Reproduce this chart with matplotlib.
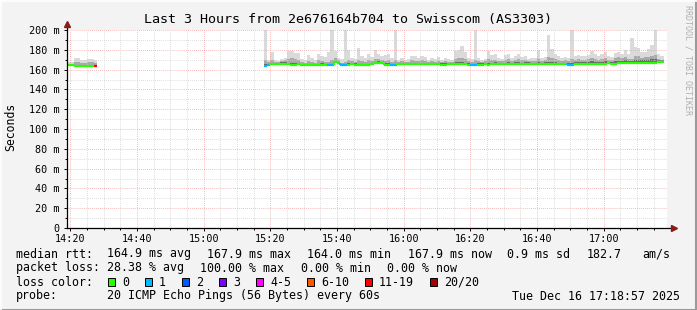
import matplotlib
matplotlib.use("Agg")
import matplotlib.pyplot as plt
import numpy as np
from matplotlib.collections import LineCollection
from matplotlib.lines import Line2D

MONO = "DejaVu Sans Mono"

# minutes since 14:19, two blocks of data with a gap in between
minutes = list(range(0, 9)) + list(range(59, 179))

rtt_median = [
    164.6, 164.4, 163.4, 163.4, 163.4, 163.4, 163.4, 163.5, 163.6,
    164.0, 164.2, 165.5, 165.3, 165.4, 166.0, 165.8, 165.2, 165.0, 165.1,
    165.3, 164.6, 164.4, 164.4, 164.5, 164.4, 164.6, 164.8, 164.6, 164.2,
    164.4, 167.8, 166.8, 164.4, 164.2, 165.0, 165.4, 165.0, 164.6, 164.5,
    164.5, 164.6, 165.4, 166.6, 167.0, 166.3, 165.0, 164.8, 164.2, 164.3,
    165.2, 165.4, 165.4, 165.3, 165.2, 165.3, 165.4, 165.4, 165.4, 165.4,
    165.5, 165.3, 165.2, 165.0, 165.1, 165.2, 165.3, 165.3, 165.4, 165.5,
    165.3, 165.0, 164.4, 164.2, 164.8, 164.9, 165.4, 164.6, 165.2, 165.6,
    165.5, 165.4, 165.5, 165.7, 165.4, 165.6, 165.8, 165.4, 165.6, 165.8,
    165.7, 165.6, 165.5, 165.6, 165.7, 165.8, 165.6, 165.5, 165.5, 165.6,
    165.5, 164.8, 164.9, 165.6, 165.7, 165.6, 165.8, 165.8, 165.7, 165.9,
    166.0, 166.1, 166.0, 166.2, 166.0, 166.1, 166.2, 166.3, 166.4, 166.2,
    166.4, 166.3, 166.5, 166.6, 166.5, 166.4, 166.6, 166.7, 167.9, 167.9,
]

# packets lost out of 20
loss = [
    0, 0, 0, 0, 0, 0, 0, 0, 12,
    1, 1, 0, 0, 0, 0, 0, 0, 0, 0,
    0, 0, 0, 0, 0, 0, 0, 0, 0, 1,
    1, 0, 0, 1, 1, 0, 0, 0, 0, 0,
    0, 0, 0, 0, 0, 0, 0, 0, 1, 1,
    0, 0, 0, 0, 0, 0, 0, 0, 0, 0,
    0, 0, 0, 0, 0, 0, 0, 0, 0, 0,
    0, 0, 1, 1, 0, 0, 0, 0, 0, 0,
    0, 0, 0, 0, 0, 0, 0, 0, 0, 0,
    0, 0, 0, 0, 0, 0, 0, 0, 0, 0,
    0, 1, 1, 0, 0, 0, 0, 0, 0, 0,
    0, 0, 0, 0, 0, 0, 0, 0, 0, 0,
    0, 0, 0, 0, 0, 0, 0, 0, 0, 0,
]

# smoke: slowest ping, upper quartile-ish, and the dense part near the median
rtt_max = [
    168, 168, 172, 172, 170, 170, 171, 171, 170,
    205, 170, 178, 170, 169, 171, 172, 179, 179, 177,
    177, 171, 170, 175, 172, 170, 176, 174, 173, 178,
    205, 179, 172, 171, 205, 180, 172, 171, 182, 174,
    172, 176, 173, 180, 176, 174, 175, 176, 172, 205,
    170, 172, 170, 171, 174, 174, 172, 174, 173, 170,
    172, 171, 173, 170, 172, 171, 170, 179, 180, 184,
    178, 172, 171, 205, 172, 170, 171, 179, 175, 176,
    172, 171, 175, 176, 172, 174, 176, 173, 174, 171,
    172, 172, 180, 172, 173, 195, 181, 176, 174, 172,
    173, 172, 205, 174, 175, 174, 174, 175, 179, 176,
    174, 176, 178, 174, 173, 177, 178, 176, 180, 176,
    192, 183, 182, 178, 178, 181, 185, 205, 176, 174,
]
rtt_mid = [
    166, 166, 168, 168, 167, 167, 168, 168, 167,
    170, 168, 170, 168, 168, 169, 170, 171, 172, 171,
    170, 168, 167, 169, 168, 167, 170, 169, 168, 168,
    170, 172, 170, 167, 168, 170, 169, 168, 170, 169,
    168, 170, 169, 171, 171, 170, 169, 170, 168, 170,
    168, 169, 168, 168, 170, 169, 169, 170, 169, 168,
    169, 168, 169, 168, 169, 168, 168, 171, 172, 172,
    171, 169, 168, 170, 169, 168, 169, 171, 170, 170,
    169, 169, 170, 171, 169, 170, 171, 170, 170, 169,
    169, 169, 171, 169, 170, 173, 172, 171, 170, 169,
    170, 169, 171, 170, 171, 170, 170, 171, 172, 171,
    170, 171, 172, 170, 170, 172, 173, 172, 173, 171,
    171, 174, 174, 172, 173, 173, 174, 175, 171, 170,
]
rtt_dark = [
    165, 165, 165, 165, 165, 165, 165, 165, 165,
    166, 166, 167, 167, 167, 168, 168, 167, 167, 167,
    167, 166, 166, 166, 166, 166, 166, 167, 166, 166,
    166, 169, 168, 166, 166, 167, 167, 167, 166, 166,
    166, 166, 167, 168, 169, 168, 167, 167, 166, 166,
    167, 167, 167, 167, 167, 167, 167, 167, 167, 167,
    167, 167, 167, 167, 167, 167, 167, 168, 168, 168,
    167, 167, 166, 166, 167, 167, 167, 167, 167, 168,
    167, 167, 167, 168, 167, 168, 168, 167, 168, 168,
    167, 167, 168, 167, 168, 168, 168, 168, 167, 167,
    167, 167, 167, 168, 168, 168, 168, 168, 169, 168,
    168, 168, 169, 168, 168, 169, 169, 169, 170, 169,
    169, 170, 170, 170, 170, 170, 171, 171, 170, 170,
]

time_labels = ["14:20", "14:40", "15:00", "15:20", "15:40",
               "16:00", "16:20", "16:40", "17:00"]
loss_legend = ["0", "1", "2", "3", "4-5", "6-10", "11-19", "20/20"]
loss_colors = ["#26ff00", "#00b8ff", "#0059ff", "#7e00ff",
               "#ff00ff", "#ff5500", "#ff0000", "#a00000"]


def loss_color(n):
    if n == 0:
        return loss_colors[0]
    if n <= 3:
        return loss_colors[n]
    if n <= 5:
        return loss_colors[4]
    if n <= 10:
        return loss_colors[5]
    if n <= 19:
        return loss_colors[6]
    return loss_colors[7]


W, H = 697, 310
fig = plt.figure(figsize=(W / 100, H / 100), dpi=100, facecolor="#f3f3f3")
ax = fig.add_axes([67 / W, (H - 228) / H, 600 / W, 198 / H])
ax.set_facecolor("white")
ax.set_xlim(0, 180)
ax.set_ylim(0, 200)
for s in ax.spines.values():
    s.set_visible(False)

# grid
dots = (0, (0.7, 1.4))
for y in range(10, 201, 10):
    major = y % 20 == 0
    ax.axhline(y, color="#f2a0a0" if major else "#cfcfcf", lw=0.7,
               linestyle=dots, zorder=3)
for m in range(1, 180, 5):
    major = (m - 1) % 20 == 0
    ax.axvline(m, color="#f2a0a0" if major else "#cfcfcf", lw=0.7,
               linestyle=dots, zorder=3)

# smoke
med = np.array(rtt_median)
ax.bar(minutes, np.array(rtt_max) - med, bottom=med, width=1, align="edge",
       color="#dadada", linewidth=0, zorder=1)
ax.bar(minutes, np.array(rtt_mid) - med, bottom=med, width=1, align="edge",
       color="#a9a9a9", linewidth=0, zorder=1.1)
ax.bar(minutes, np.array(rtt_dark) - med, bottom=med, width=1, align="edge",
       color="#686868", linewidth=0, zorder=1.2)

# median rtt, coloured by packet loss
segs, cols = [], []
for i, m in enumerate(minutes):
    c = loss_color(loss[i])
    segs.append([(m, rtt_median[i]), (m + 1, rtt_median[i])])
    cols.append(c)
    if i > 0 and minutes[i - 1] == m - 1:
        segs.append([(m, rtt_median[i - 1]), (m, rtt_median[i])])
        cols.append(c)
ax.add_collection(LineCollection(segs, colors=cols, linewidths=1.6,
                                 capstyle="butt", zorder=4))

# axes with arrows
ax.plot([0, 0], [0, 206], color="black", lw=0.9, clip_on=False, zorder=5)
ax.plot([0, 181.5], [0, 0], color="black", lw=0.9, clip_on=False, zorder=5)
ax.plot([0], [206.5], marker="^", color="#8b1a1a", ms=4, clip_on=False, zorder=6)
ax.plot([182], [0], marker=">", color="#8b1a1a", ms=4, clip_on=False, zorder=6)

ax.set_yticks(range(0, 201, 20))
ax.set_yticklabels(["0"] + [f"{v} m" for v in range(20, 201, 20)])
ax.set_yticks(range(10, 200, 20), minor=True)
ax.set_xticks(range(1, 180, 20))
ax.set_xticklabels(time_labels)
ax.set_xticks(range(6, 180, 5), minor=True)
ax.tick_params(axis="both", which="major", length=2.5, width=0.7,
               labelsize=7.3, direction="out", color="black")
ax.tick_params(axis="both", which="minor", length=1.5, width=0.7,
               direction="out", color="black")
ax.tick_params(axis="y", pad=3)
ax.tick_params(axis="x", pad=2)
for lab in ax.get_xticklabels() + ax.get_yticklabels():
    lab.set_fontfamily(MONO)


def px(x, y):
    return x / W, 1 - y / H


fig.text(*px(348, 19), "Last 3 Hours from 2e676164b704 to Swisscom (AS3303)",
         family=MONO, fontsize=9.6, ha="center", va="center")
fig.text(*px(11, 127), "Seconds", family=MONO, fontsize=8.3,
         rotation=90, ha="center", va="center")
fig.text(*px(688, 5), "RRDTOOL / TOBI OETIKER", family=MONO, fontsize=6,
         color="#b0b0b0", rotation=270, ha="center", va="top")

fs = 8.4
row1 = [(16, "median rtt:"), (107, "164.9 ms avg"), (207, "167.9 ms max"),
        (307, "164.0 ms min"), (408, "167.9 ms now"), (507, "0.9 ms sd"),
        (587, "182.7"), (642, "am/s")]
row2 = [(16, "packet loss:"), (107, "28.38 % avg"), (200, "100.00 % max"),
        (301, "0.00 % min"), (387, "0.00 % now")]
for x, t in row1:
    fig.text(*px(x, 254), t, family=MONO, fontsize=fs, va="center")
for x, t in row2:
    fig.text(*px(x, 268), t, family=MONO, fontsize=fs, va="center")

fig.text(*px(16, 282), "loss color:", family=MONO, fontsize=fs, va="center")
swatch_x = [108, 145, 182, 219, 256, 307, 365, 430]
for sx, lab, c in zip(swatch_x, loss_legend, loss_colors):
    fig.patches.append(plt.Rectangle((sx / W, 1 - 286 / H), 7 / W, 8.5 / H,
                                     transform=fig.transFigure, facecolor=c,
                                     edgecolor="black", lw=0.7))
    fig.text(*px(sx + 14, 282), lab, family=MONO, fontsize=fs, va="center")

fig.text(*px(16, 296), "probe:", family=MONO, fontsize=fs, va="center")
fig.text(*px(107, 296), "20 ICMP Echo Pings (56 Bytes) every 60s",
         family=MONO, fontsize=fs, va="center")
fig.text(*px(680, 296), "Tue Dec 16 17:18:57 2025", family=MONO,
         fontsize=fs, va="center", ha="right")

# 3d-ish frame
fig.add_artist(Line2D([0, 1], [0.5 / H, 0.5 / H], transform=fig.transFigure,
                      color="#9a9a9a", lw=1.5))
fig.add_artist(Line2D([1 - 1 / W, 1 - 1 / W], [0, 1], transform=fig.transFigure,
                      color="#9a9a9a", lw=1.5))
fig.add_artist(Line2D([0, 1], [1 - 0.5 / H, 1 - 0.5 / H], transform=fig.transFigure,
                      color="#ffffff", lw=1.2))
fig.add_artist(Line2D([0.5 / W, 0.5 / W], [0, 1], transform=fig.transFigure,
                      color="#ffffff", lw=1.2))

fig.savefig("out.png", dpi=100, facecolor=fig.get_facecolor())
